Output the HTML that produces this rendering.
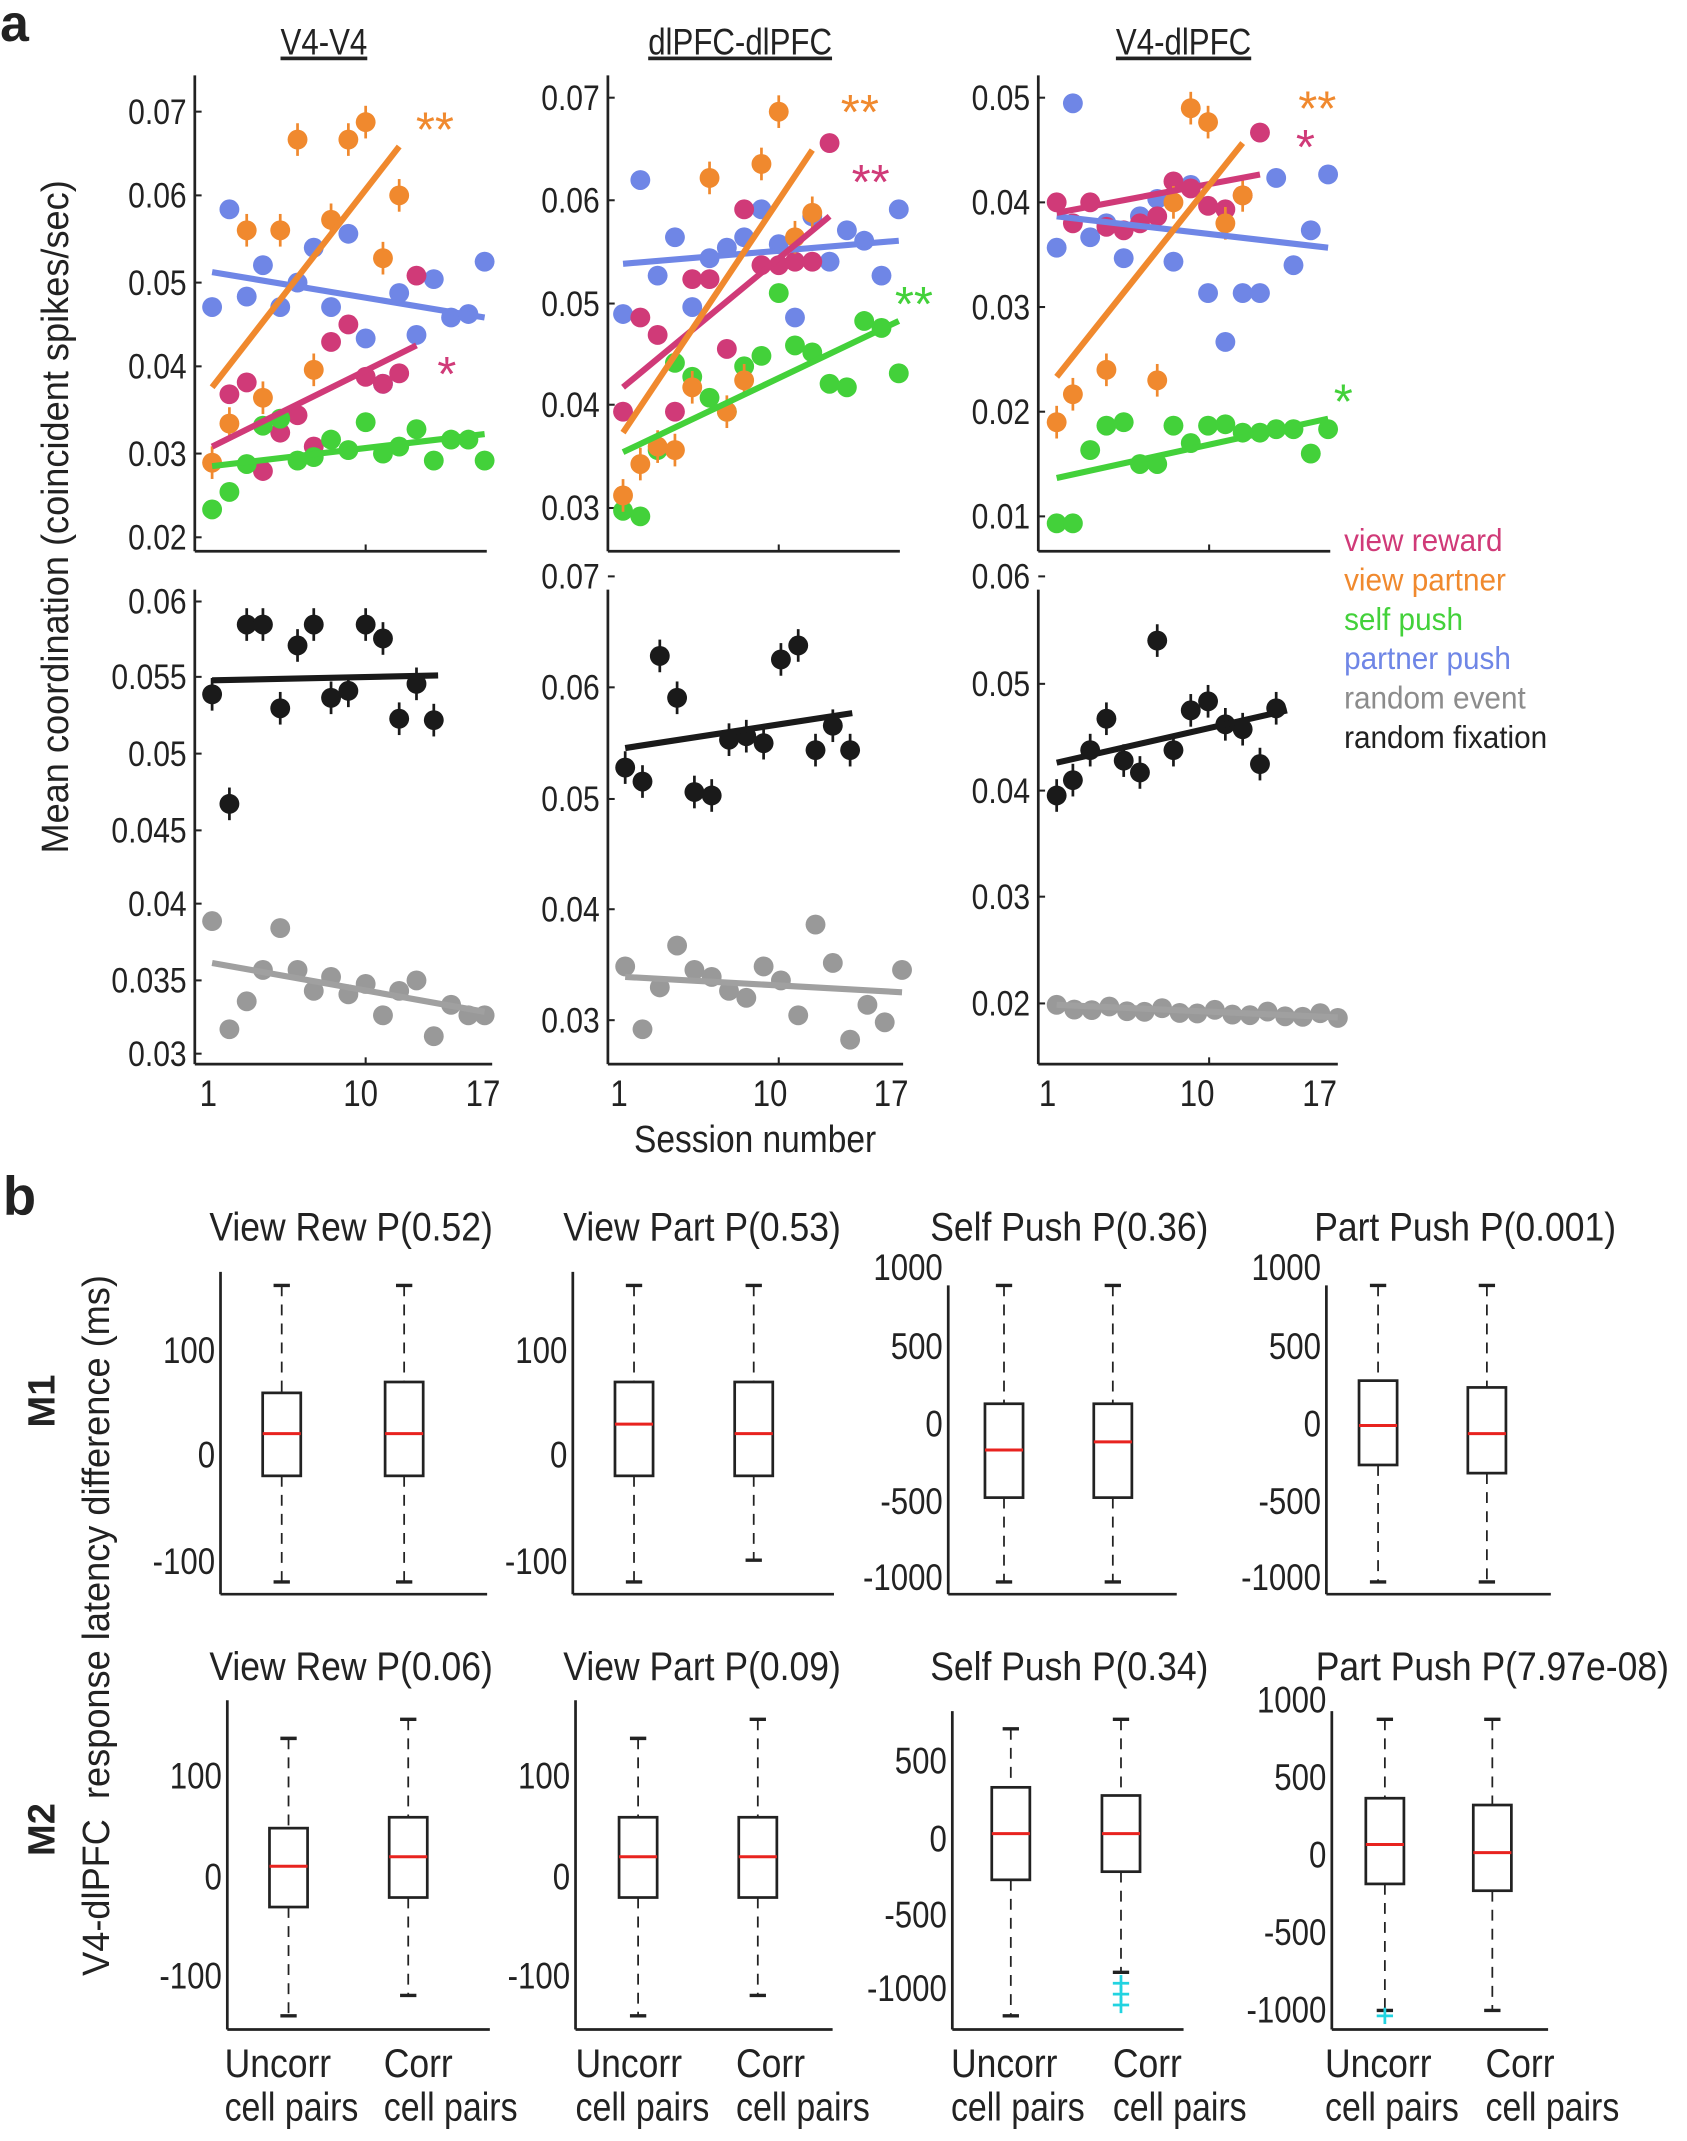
<!DOCTYPE html>
<html><head><meta charset="utf-8"><style>
html,body{margin:0;padding:0;background:#fff}
svg{display:block}
text{font-family:"Liberation Sans",sans-serif;fill:#222}
</style></head><body>
<svg id="s" width="1687" height="2141" viewBox="0 0 1240 1574" xmlns="http://www.w3.org/2000/svg"></svg>
<script>
const S=document.getElementById('s');let h='';
const X=x=>x*0.795, Y=y=>y*0.513;
const C={o:'#f0892e',b:'#6f86e6',m:'#d03a78',g:'#43d13a',k:'#1a1a1a',y:'#999999'};
function T(x,y,t,o={}){const sx=o.sx||1;const rot=o.rot?` rotate(${o.rot})`:'';
 h+=`<text x="0" y="0" font-size="${o.fs||22}" ${o.a?`text-anchor="${o.a}"`:''} ${o.fw?`font-weight="${o.fw}"`:''} transform="translate(${x} ${y})${rot} scale(${sx} 1)" style="fill:${o.c||'#222'}" ${o.td?'text-decoration="underline"':''}>${t}</text>`;}
function L(x1,y1,x2,y2,c,w,d){h+=`<line x1="${x1}" y1="${y1}" x2="${x2}" y2="${y2}" stroke="${c}" stroke-width="${w}" ${d?`stroke-dasharray="${d}"`:''}/>`;}
function pts(arr,c,eb){arr.forEach((p,i)=>{const x=X(p[0]),y=Y(p[1]);if(eb)L(x,y-12,x,y+12,c,2);h+=`<circle cx="${x}" cy="${y}" r="7.3" fill="${c}"/>`;});}
function fit(a,c){L(X(a[0]),Y(a[1]),X(a[2]),Y(a[3]),c,4.5);}
function axis(ax,top,bot,xe,ticks,xl){L(X(ax),Y(top),X(ax),Y(bot),'#222',2);L(X(ax),Y(bot),X(xe),Y(bot),'#222',2);
 ticks.forEach(t=>{L(X(ax),Y(t[1]),X(ax)+5,Y(t[1]),'#222',1.5);T(X(ax)-6,Y(t[1])+9,t[0],{a:'end',fs:26,sx:0.85});});
 if(xl)xl.forEach(v=>L(X(v),Y(bot),X(v),Y(bot)-5,'#222',1.5));}
// Titles
T(0,30,'a',{fs:38,fw:'bold'});
T(238,40,'V4-V4',{a:'middle',fs:27,sx:0.85,td:1});T(544,40,'dlPFC-dlPFC',{a:'middle',fs:27,sx:0.85,td:1});T(870,40,'V4-dlPFC',{a:'middle',fs:27,sx:0.85,td:1});
// col1 top
axis(180,108,790,450,[['0.07',160],['0.06',280],['0.05',405],['0.04',525],['0.03',650],['0.02',770]],[338]);
pts([[196,440],[212,300],[228,425],[243,380],[259,440],[275,405],[290,355],[306,440],[322,335],[338,485],[354,550],[369,420],[385,480],[401,400],[417,455],[433,450],[448,375]],C.b);
pts([[212,565],[228,548],[243,675],[259,620],[275,595],[290,640],[306,490],[322,465],[338,540],[354,550],[369,535],[385,395]],C.m);
pts([[196,730],[212,705],[228,665],[243,610],[259,600],[275,660],[290,655],[306,630],[322,645],[338,605],[354,650],[369,640],[385,615],[401,660],[417,630],[433,630],[448,660]],C.g);
pts([[196,663],[212,607],[228,330],[243,570],[259,330],[275,200],[290,530],[306,315],[322,200],[338,175],[354,370],[369,280]],C.o,1);
fit([196,390,448,455],C.b);fit([196,640,385,495],C.m);fit([196,668,448,622],C.g);fit([196,555,369,210],C.o);
T(X(402),Y(210),'**',{a:'middle',fs:36,c:C.o});T(X(413),Y(560),'*',{a:'middle',fs:36,c:C.m});
// col2 top
axis(562,108,790,832,[['0.07',140],['0.06',287],['0.05',435],['0.04',580],['0.03',728]],[720]);
pts([[576,450],[592,258],[608,395],[624,340],[640,440],[656,370],[672,355],[688,340],[704,300],[720,350],[735,455],[751,310],[767,375],[783,330],[799,345],[815,395],[831,300]],C.b);
pts([[576,590],[592,455],[608,480],[624,590],[640,400],[656,400],[672,500],[688,300],[704,380],[720,380],[735,375],[751,375],[767,205]],C.m);
pts([[576,732],[592,740],[608,645],[624,520],[640,540],[656,570],[672,590],[688,525],[704,510],[720,420],[735,495],[751,505],[767,550],[783,555],[799,460],[815,470],[831,535]],C.g);
pts([[576,710],[592,665],[608,640],[624,645],[640,555],[656,255],[672,590],[688,545],[704,235],[720,160],[735,340],[751,305]],C.o,1);
fit([576,378,831,345],C.b);fit([576,555,767,310],C.m);fit([576,648,831,460],C.g);fit([576,620,751,215],C.o);
T(X(795),Y(185),'**',{a:'middle',fs:36,c:C.o});T(X(805),Y(285),'**',{a:'middle',fs:36,c:C.m});T(X(845),Y(460),'**',{a:'middle',fs:36,c:C.g});
// col3 top
axis(960,108,790,1230,[['0.05',140],['0.04',290],['0.03',440],['0.02',590],['0.01',740]],[1118]);
pts([[977,355],[992,148],[1008,340],[1023,320],[1039,370],[1054,310],[1070,285],[1085,375],[1101,265],[1117,420],[1133,490],[1149,420],[1165,420],[1180,255],[1196,380],[1212,330],[1228,250]],C.b);
pts([[977,290],[992,320],[1008,290],[1023,325],[1039,330],[1054,320],[1070,310],[1085,260],[1101,270],[1117,295],[1133,300],[1149,280],[1165,190]],C.m);
pts([[977,750],[992,750],[1008,645],[1023,610],[1039,605],[1054,665],[1070,665],[1085,610],[1101,635],[1117,610],[1133,608],[1149,620],[1165,620],[1180,615],[1196,615],[1212,650],[1228,615]],C.g);
pts([[977,605],[992,565],[1023,530],[1070,545],[1085,290],[1101,155],[1117,175],[1133,320],[1149,280]],C.o,1);
fit([977,310,1228,355],C.b);fit([977,305,1165,250],C.m);fit([977,685,1228,600],C.g);fit([977,540,1149,205],C.o);
T(X(1218),Y(180),'**',{a:'middle',fs:36,c:C.o});T(X(1207),Y(235),'*',{a:'middle',fs:36,c:C.m});T(X(1242),Y(600),'*',{a:'middle',fs:36,c:C.g});
// bottom panels
axis(180,845,1525,455,[['0.06',862],['0.055',970],['0.05',1080],['0.045',1190],['0.04',1295],['0.035',1405],['0.03',1510]],[338]);
pts([[196,995],[212,1152],[228,895],[243,895],[259,1015],[275,925],[290,895],[306,1000],[322,990],[338,895],[354,915],[369,1030],[385,980],[401,1032]],C.k,1);
pts([[196,1320],[212,1475],[228,1435],[243,1390],[259,1330],[275,1390],[290,1420],[306,1400],[322,1425],[338,1410],[354,1455],[369,1420],[385,1405],[401,1485],[417,1440],[433,1455],[448,1455]],C.y);
fit([196,975,405,968],C.k);fit([196,1380,448,1450],'#a0a0a0');
axis(562,845,1525,835,[['0.07',826],['0.06',985],['0.05',1145],['0.04',1303],['0.03',1462]],[720]);
pts([[578,1100],[594,1120],[610,940],[626,1000],[642,1135],[658,1140],[674,1060],[690,1055],[706,1065],[722,945],[738,925],[754,1075],[770,1040],[786,1075]],C.k,1);
pts([[578,1385],[594,1475],[610,1415],[626,1355],[642,1390],[658,1400],[674,1420],[690,1430],[706,1385],[722,1405],[738,1455],[754,1325],[770,1380],[786,1490],[802,1440],[818,1465],[834,1390]],C.y);
fit([578,1072,788,1022],C.k);fit([578,1400,834,1422],'#a0a0a0');
axis(960,845,1525,1237,[['0.06',826],['0.05',980],['0.04',1133],['0.03',1285],['0.02',1438]],[1118]);
pts([[977,1140],[992,1118],[1008,1075],[1023,1030],[1039,1090],[1054,1107],[1070,918],[1085,1075],[1101,1018],[1117,1005],[1133,1038],[1149,1045],[1165,1095],[1180,1015]],C.k,1);
{let a=[];for(let i=0;i<17;i++)a.push([977+i*16.25,1443+(i%3==0?-3:3)+i*0.8]);pts(a,C.y);}
fit([977,1093,1190,1018],C.k);fit([977,1440,1237,1458],'#a0a0a0');
// x tick labels
[[153,265,355],[455,566,655],[770,880,970]].forEach(r=>{T(r[0],813,'1',{a:'middle',fs:27,sx:0.85});T(r[1],813,'10',{a:'middle',fs:27,sx:0.85});T(r[2],813,'17',{a:'middle',fs:27,sx:0.85});});
T(555,847,'Session number',{a:'middle',fs:28,sx:0.88});
T(50,380,'Mean coordination (coincident spikes/sec)',{a:'middle',fs:28,sx:0.95,rot:-90});
// legend
[['view reward',C.m,405],['view partner',C.o,434],['self push',C.g,463],['partner push',C.b,492],['random event','#8c8c8c',521],['random fixation','#222',550]].forEach(l=>T(988,l[2],l[0],{fs:23,sx:0.95,c:l[1]}));
// panel b
T(2,893,'b',{fs:40,fw:'bold'});
T(40,1030,'M1',{a:'middle',fs:28,fw:'bold',rot:-90});
T(40,1345,'M2',{a:'middle',fs:28,fw:'bold',rot:-90});
T(80,1195,'V4-dlPFC&#160;&#160;response latency difference (ms)',{a:'middle',fs:28,sx:0.95,rot:-90});
function box(c,q3,q1,md,wt,wb){const w=14;L(c,wt,c,q3,'#222',1.3,'8,6');L(c,q1,c,wb,'#222',1.3,'8,6');L(c-6,wt,c+6,wt,'#222',2.5);L(c-6,wb,c+6,wb,'#222',2.5);
 h+=`<rect x="${c-w}" y="${q3}" width="${2*w}" height="${q1-q3}" fill="none" stroke="#222" stroke-width="2"/>`;L(c-w,md,c+w,md,'#e8231f',2.2);}
function bax(ax,top,bot,xe,ticks,title,tc,ty){L(ax,top,ax,bot,'#222',2);L(ax,bot,xe,bot,'#222',2);ticks.forEach(t=>T(ax-4,t[1]+9,t[0],{a:'end',fs:27,sx:0.85}));T(tc,ty,title,{a:'middle',fs:29,sx:0.9});}
const t1=[['100',993],['0',1070],['-100',1148]],t3=[['1000',932],['500',990],['0',1047],['-500',1104],['-1000',1160]];
bax(162,935,1172,358,t1,'View Rew P(0.52)',258,912);box(207,1024,1085,1054,945,1163);box(297,1016,1085,1054,945,1163);
bax(421,935,1172,613,t1,'View Part P(0.53)',516,912);box(466,1016,1085,1047,945,1163);box(554,1016,1085,1054,945,1147);
bax(697,945,1172,865,t3,'Self Push P(0.36)',786,912);box(738,1032,1101,1066,945,1163);box(818,1032,1101,1060,945,1163);
bax(975,945,1172,1140,t3,'Part Push P(0.001)',1077,912);box(1013,1015,1077,1048,945,1163);box(1093,1020,1083,1054,945,1163);
const u1=[['100',1306],['0',1380],['-100',1453]];
bax(167,1250,1492,360,u1,'View Rew P(0.06)',258,1235);box(212,1344,1402,1372,1278,1482);box(300,1336,1395,1365,1264,1467);
bax(423,1250,1492,612,u1,'View Part P(0.09)',516,1235);box(469,1336,1395,1365,1278,1482);box(557,1336,1395,1365,1264,1467);
bax(700,1258,1492,870,[['500',1295],['0',1352],['-500',1408],['-1000',1462]],'Self Push P(0.34)',786,1235);box(743,1314,1382,1348,1271,1482);box(824,1320,1376,1348,1264,1450);
bax(979,1258,1492,1138,[['1000',1250],['500',1307],['0',1364],['-500',1421],['-1000',1478]],'Part Push P(7.97e-08)',1097,1235);box(1018,1322,1385,1356,1264,1478);box(1097,1327,1390,1362,1264,1478);
[[824,1458],[824,1466],[824,1474],[1018,1482]].forEach(p=>{L(p[0]-6,p[1],p[0]+6,p[1],'#22d3e0',2);L(p[0],p[1]-6,p[0],p[1]+6,'#22d3e0',2);});
[[165,282],[423,541],[699,818],[974,1092]].forEach(r=>{T(r[0],1527,'Uncorr',{fs:29,sx:0.9});T(r[0],1559,'cell pairs',{fs:29,sx:0.86});T(r[1],1527,'Corr',{fs:29,sx:0.9});T(r[1],1559,'cell pairs',{fs:29,sx:0.86});});
S.innerHTML=h;
</script>
</body></html>
